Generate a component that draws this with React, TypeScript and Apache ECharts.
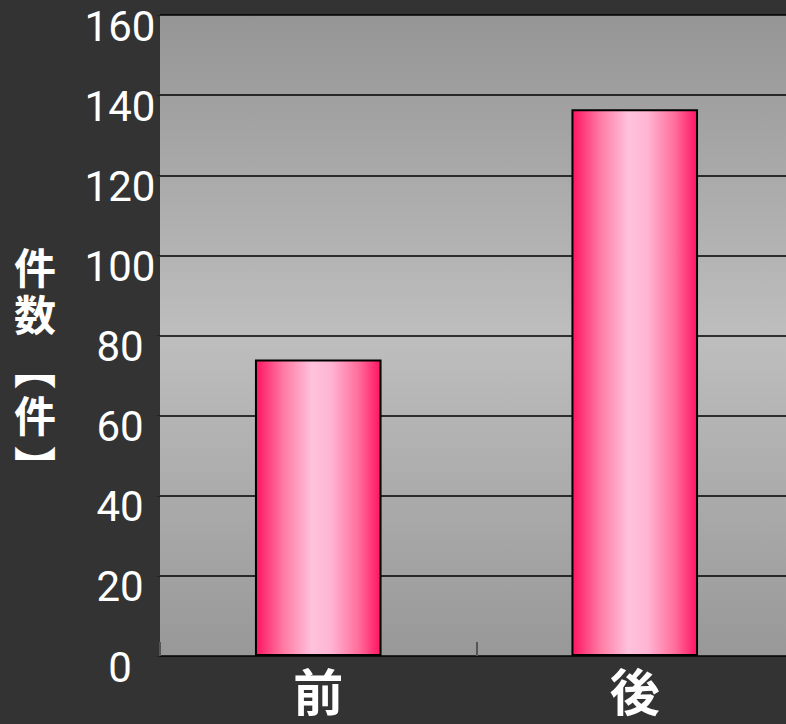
import React, { useEffect, useRef } from "react";
import * as echarts from "echarts";

const categories = ["前", "後"];
const values = [74, 136.5];
const yTicks = { min: 0, max: 160, interval: 20 };
const yAxisTitle = ["件", "数", "︻", "件", "︼"];
const yAxisTitleCenters = [265, 312, 365, 413, 464];

export default function App() {
  const ref = useRef<HTMLDivElement>(null);
  useEffect(() => {
    document.body.style.margin = "0";
    const chart = echarts.init(ref.current!, null, { renderer: "svg" });
    const barGradient = new echarts.graphic.LinearGradient(0, 0, 1, 0, [
      { offset: 0, color: "#ff1463" },
      { offset: 0.22, color: "#ff7aa3" },
      { offset: 0.45, color: "#ffc2dc" },
      { offset: 0.6, color: "#ffb5d4" },
      { offset: 0.82, color: "#ff6f9c" },
      { offset: 1, color: "#ff1463" },
    ]);
    chart.setOption({
      animation: false,
      backgroundColor: "#333333",
      grid: {
        left: 160,
        top: 15,
        width: 633,
        bottom: 68,
        outerBoundsMode: "none",
        containLabel: false,
        show: true,
        borderWidth: 0,
        backgroundColor: new echarts.graphic.LinearGradient(0, 0, 0, 1, [
          { offset: 0, color: "#959595" },
          { offset: 0.5, color: "#bebebe" },
          { offset: 1, color: "#989898" },
        ]),
      },
      graphic: yAxisTitle.map((ch, i) => ({
        type: "text",
        x: 35,
        y: yAxisTitleCenters[i],
        style: {
          text: ch,
          fill: "#ffffff",
          font: 'bold 42px "Noto Sans CJK JP"',
          lineHeight: 42,
          align: "center",
          verticalAlign: "middle",
        },
      })),
      xAxis: {
        type: "category",
        data: categories,
        axisLine: { show: false },
        axisTick: {
          show: true,
          inside: true,
          length: 14,
          lineStyle: { color: "#555555", width: 2 },
        },
        axisLabel: {
          color: "#ffffff",
          fontSize: 50,
          fontWeight: "bold",
          fontFamily: '"Noto Sans CJK JP"',
          margin: 8,
        },
      },
      yAxis: {
        type: "value",
        min: yTicks.min,
        max: yTicks.max,
        interval: yTicks.interval,
        axisLine: { show: false },
        axisTick: { show: true, length: 3, lineStyle: { color: "#222222" } },
        splitLine: { lineStyle: { color: "#000000", width: 1.5 } },
        axisLabel: {
          color: "#ffffff",
          fontSize: 42,
          fontFamily: "Roboto",
          margin: 40,
          align: "center",
          verticalAlign: "top",
          lineHeight: 22,
        },
      },
      series: [
        {
          type: "bar",
          data: values,
          barWidth: "40%",
          itemStyle: {
            color: barGradient,
            borderColor: "#000000",
            borderWidth: 2,
          },
        },
      ],
    });
    return () => chart.dispose();
  }, []);
  return (
    <div
      ref={ref}
      style={{ position: "fixed", left: 0, top: 0, width: 786, height: 724 }}
    />
  );
}
